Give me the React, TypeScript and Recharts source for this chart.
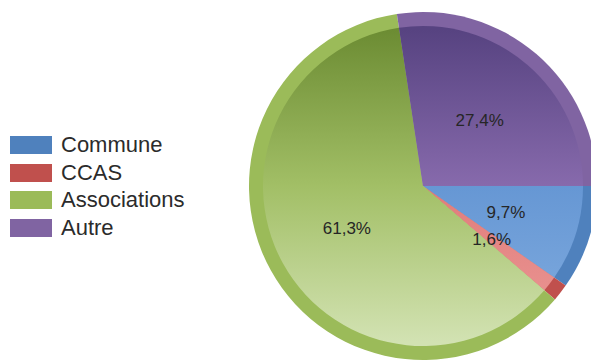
import React from "react";
import { PieChart, Pie, Cell } from "recharts";

const categories = ["Commune", "CCAS", "Associations", "Autre"];
const shares = [9.7, 1.6, 61.3, 27.4];
const percentLabels = ["9,7%", "1,6%", "61,3%", "27,4%"];

const data = categories.map((name, i) => ({ name, value: shares[i], label: percentLabels[i] }));

const baseColors = ["#4f81bd", "#c0504d", "#9bbb59", "#8064a2"];
const gradStops = [
  ["#4a78b4", "#6697d4", "#82ade0"],
  ["#b8484a", "#e07c7a", "#ec9a98"],
  ["#6c8c33", "#a2bf66", "#d2e2b2"],
  ["#574381", "#876aac", "#a48bc4"],
];

const FONT = "Arial, 'Liberation Sans', sans-serif";
const RAD = Math.PI / 180;

const renderLabel = (props: any) => {
  const { cx, cy, midAngle, outerRadius, index } = props;
  const a = midAngle * RAD;
  const r = outerRadius * 0.5;
  const x = cx + r * Math.cos(a);
  const y = cy - r * Math.sin(a);
  return (
    <text
      x={x}
      y={y}
      textAnchor="middle"
      dominantBaseline="central"
      fill="#262626"
      fontFamily={FONT}
      fontSize={17}
    >
      {data[index].label}
    </text>
  );
};

export default function App() {
  return (
    <div style={{ position: "absolute", left: 0, top: 0, width: 591, height: 361, background: "#fff", overflow: "hidden" }}>
      <PieChart width={591} height={361} margin={{ top: 0, right: 0, bottom: 0, left: 0 }}>
        <defs>
          {gradStops.map((s, i) => (
            <linearGradient key={i} id={`g${i}`} gradientUnits="userSpaceOnUse" x1={0} y1={30} x2={0} y2={342}>
              <stop offset="0" stopColor={s[0]} />
              <stop offset="0.5" stopColor={s[1]} />
              <stop offset="1" stopColor={s[2]} />
            </linearGradient>
          ))}
        </defs>
        <Pie
          data={data}
          dataKey="value"
          nameKey="name"
          cx={423}
          cy={186}
          outerRadius={174}
          startAngle={0}
          endAngle={-360}
          stroke="none"
          isAnimationActive={false}
        >
          {data.map((d, i) => (
            <Cell key={d.name} fill={baseColors[i]} />
          ))}
        </Pie>
        <Pie
          data={data}
          dataKey="value"
          nameKey="name"
          cx={423}
          cy={186}
          outerRadius={160}
          startAngle={0}
          endAngle={-360}
          stroke="none"
          isAnimationActive={false}
          label={(p: any) => renderLabel({ ...p, outerRadius: 174 })}
          labelLine={false}
        >
          {data.map((d, i) => (
            <Cell key={d.name} fill={`url(#g${i})`} />
          ))}
        </Pie>
      </PieChart>
      <div style={{ position: "absolute", left: 10, top: 131, fontFamily: FONT, fontSize: 22, color: "#2b2b2b" }}>
        {categories.map((c, i) => (
          <div key={c} style={{ display: "flex", alignItems: "center", height: 27.7 }}>
            <div style={{ width: 42, height: 18, background: baseColors[i], marginRight: 9 }} />
            <span style={{ lineHeight: "18px" }}>{c}</span>
          </div>
        ))}
      </div>
    </div>
  );
}
